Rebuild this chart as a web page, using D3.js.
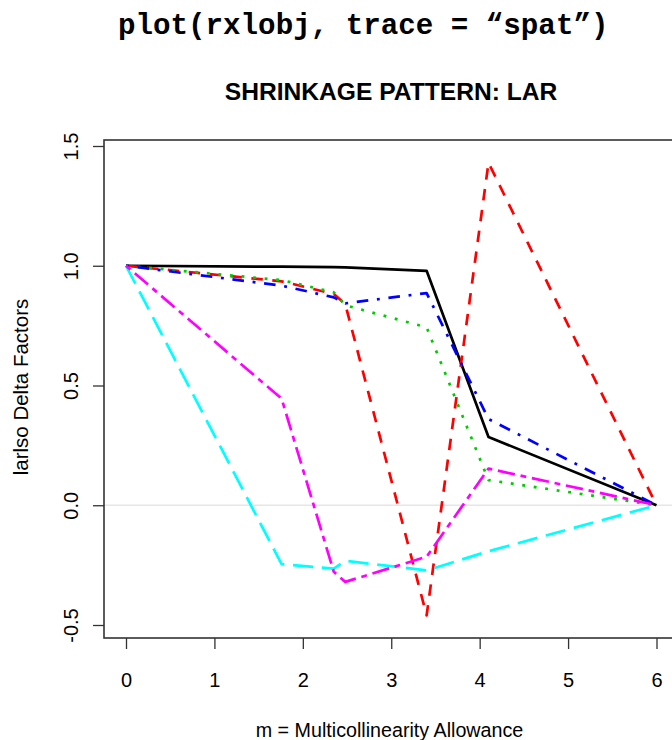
<!DOCTYPE html>
<html>
<head>
<meta charset="utf-8">
<script src="https://cdn.jsdelivr.net/npm/d3@7"></script>
<style>
  html, body { margin: 0; padding: 0; background: #fff; }
  svg { display: block; }
</style>
</head>
<body>
<div id="chart"></div>
<script>
// Multicollinearity allowance values along the LAR path
const mValues = [0, 1.76, 2.35, 2.48, 3.40, 4.10, 6];

// Delta factor traces, one per coefficient
const deltaBlack   = [1.00, 0.996, 0.994, 0.993, 0.979, 0.285, 0.00];
const deltaRed     = [1.00, 0.935, 0.882, 0.840, -0.460, 1.430, 0.00];
const deltaGreen   = [1.00, 0.940, 0.889, 0.835, 0.743, 0.105, 0.00];
const deltaBlue    = [1.00, 0.917, 0.868, 0.843, 0.886, 0.360, 0.00];
const deltaCyan    = [1.00, -0.246, -0.265, -0.232, -0.272, -0.192, 0.00];
const deltaMagenta = [1.00, 0.445, -0.278, -0.320, -0.215, 0.153, 0.00];

const xTicks = [0, 1, 2, 3, 4, 5, 6];
const yTicks = [-0.5, 0.0, 0.5, 1.0, 1.5];
const yTickLabels = ["-0.5", "0.0", "0.5", "1.0", "1.5"];

const series = [
  { values: deltaBlack,   color: "#000000", dash: null },
  { values: deltaRed,     color: "#ff0000", dash: "11.5,9.5" },
  { values: deltaGreen,   color: "#00cd00", dash: "2.9,8.7" },
  { values: deltaBlue,    color: "#0000ff", dash: "2.9,8.7,11.6,8.7" },
  { values: deltaCyan,    color: "#00ffff", dash: "20.3,8.7" },
  { values: deltaMagenta, color: "#ff00ff", dash: "5.8,5.8,17.4,5.8" }
];

const W = 672, H = 740;
const svg = d3.select("#chart").append("svg")
  .attr("width", W).attr("height", H)
  .attr("viewBox", `0 0 ${W} ${H}`);

const x = d3.scaleLinear().domain([0, 6]).range([126, 656.5]);
const y = d3.scaleLinear().domain([-0.5, 1.5]).range([625, 146]);

// plot frame extends slightly past the right edge of the canvas
const frame = { left: 104, top: 140, right: 678, bottom: 638 };
const plotCenter = (frame.left + frame.right) / 2;

const sans = "'Liberation Sans', Arial, Helvetica, sans-serif";

// command caption
svg.append("text")
  .attr("x", 118).attr("y", 34)
  .attr("font-family", "'Liberation Mono', 'Courier New', monospace")
  .attr("font-weight", "bold")
  .attr("font-size", 29.2)
  .attr("fill", "#000")
  .text("plot(rxlobj, trace = \u201Cspat\u201D)");

// main title
svg.append("text")
  .attr("x", plotCenter).attr("y", 99.5)
  .attr("text-anchor", "middle")
  .attr("font-family", sans)
  .attr("font-weight", "bold")
  .attr("font-size", 24.6)
  .attr("fill", "#000")
  .text("SHRINKAGE PATTERN: LAR");

// reference line at zero
svg.append("line")
  .attr("x1", frame.left).attr("x2", frame.right)
  .attr("y1", y(0)).attr("y2", y(0))
  .attr("stroke", "#e6e6e6").attr("stroke-width", 1.6);

// traces
const line = d3.line()
  .x((d, i) => x(mValues[i]))
  .y(d => y(d));

const g = svg.append("g").attr("fill", "none");
series.forEach(s => {
  g.append("path")
    .datum(s.values)
    .attr("d", line)
    .attr("stroke", s.color)
    .attr("stroke-width", 2.7)
    .attr("stroke-linejoin", "round")
    .attr("stroke-dasharray", s.dash);
});

// frame
svg.append("rect")
  .attr("x", frame.left).attr("y", frame.top)
  .attr("width", frame.right - frame.left)
  .attr("height", frame.bottom - frame.top)
  .attr("fill", "none")
  .attr("stroke", "#333").attr("stroke-width", 1.6);

// x axis
const xAxis = svg.append("g")
  .attr("transform", `translate(0,${frame.bottom})`)
  .call(d3.axisBottom(x).tickValues(xTicks).tickSize(11).tickFormat(d3.format("d")));
xAxis.select(".domain").remove();
xAxis.selectAll(".tick line").attr("stroke", "#333").attr("stroke-width", 1.3);
xAxis.selectAll(".tick text")
  .attr("y", 49).attr("dy", null)
  .attr("font-family", sans)
  .attr("font-size", 20)
  .attr("fill", "#000");

// y axis
const yAxis = svg.append("g")
  .attr("transform", `translate(${frame.left},0)`)
  .call(d3.axisLeft(y).tickValues(yTicks).tickSize(11)
    .tickFormat((d, i) => yTickLabels[i]));
yAxis.select(".domain").remove();
yAxis.selectAll(".tick line").attr("stroke", "#333").attr("stroke-width", 1.3);
yAxis.selectAll(".tick text")
  .attr("x", 0).attr("dy", null)
  .attr("text-anchor", "middle")
  .attr("transform", "translate(-26,0) rotate(-90)")
  .attr("font-family", sans)
  .attr("font-size", 20)
  .attr("fill", "#000");

// axis titles
svg.append("text")
  .attr("x", plotCenter - 1.5).attr("y", 737)
  .attr("text-anchor", "middle")
  .attr("font-family", sans)
  .attr("font-size", 19.7)
  .attr("fill", "#000")
  .text("m = Multicollinearity Allowance");

svg.append("text")
  .attr("transform", "translate(28,387) rotate(-90)")
  .attr("text-anchor", "middle")
  .attr("font-family", sans)
  .attr("font-size", 20.5)
  .attr("fill", "#000")
  .text("larlso Delta Factors");
</script>
</body>
</html>
